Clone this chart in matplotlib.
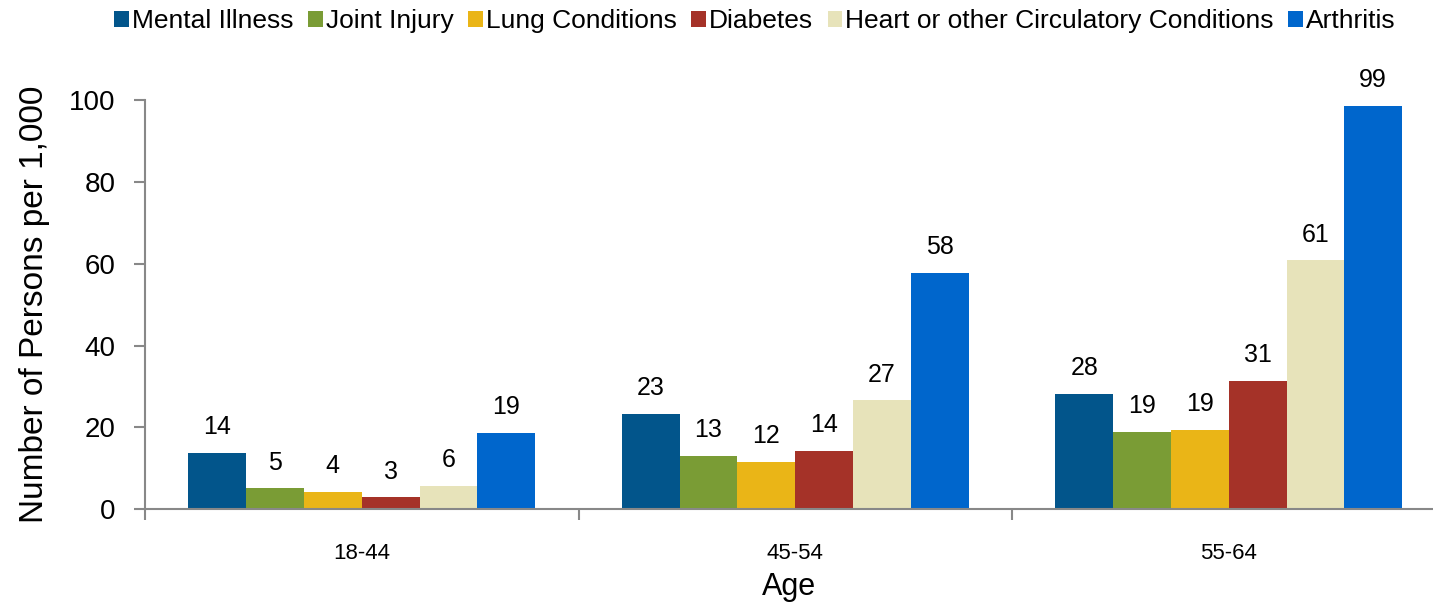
import numpy as np
import matplotlib
matplotlib.use("Agg")
import matplotlib.pyplot as plt

plt.rcParams['font.family'] = ['Liberation Sans', 'DejaVu Sans']

ages = ["18-44", "45-54", "55-64"]
conditions = ["Mental Illness", "Joint Injury", "Lung Conditions", "Diabetes",
              "Heart or other Circulatory Conditions", "Arthritis"]
mental = [13.8, 23.4, 28.1]
joint = [5.1, 13.0, 19.0]
lung = [4.2, 11.6, 19.4]
diabetes = [2.9, 14.3, 31.3]
heart = [5.7, 26.6, 60.8]
arthritis = [18.6, 57.8, 98.6]
colors = ["#02558B", "#7A9C35", "#EAB517", "#A53228", "#E7E3BA", "#0066CC"]

series = [mental, joint, lung, diabetes, heart, arthritis]

fig = plt.figure(figsize=(14.33, 6.05), dpi=100)
ax = fig.add_axes([145 / 1433, 1 - 509.3 / 605, 1 - 145 / 1433, 409.3 / 605])

x = np.arange(len(ages))
w = 0.8 / len(series)
for i, vals in enumerate(series):
    bars = ax.bar(x - 0.4 + w * (i + 0.5), vals, w, color=colors[i], label=conditions[i], linewidth=0)
    ax.bar_label(bars, fmt="%.0f", padding=10, fontsize=18)

ax.set_xlim(-0.5, -0.5 + (1433 - 145) / 433.5)
ax.set_ylim(0, 100)
ax.set_yticks(np.arange(0, 101, 20))
ax.tick_params(axis='y', labelsize=20, length=8, width=1.5, color="#888888", pad=13)

ax.set_xticks([-0.5, 0.5, 1.5])
ax.set_xticklabels([])
ax.tick_params(axis='x', which='major', length=8, width=1.5, color="#888888")
ax.set_xticks(x, minor=True)
ax.set_xticklabels(ages, minor=True, fontsize=16)
ax.tick_params(axis='x', which='minor', length=0, pad=24)

for s in ["top", "right"]:
    ax.spines[s].set_visible(False)
for s in ["left", "bottom"]:
    ax.spines[s].set_color("#888888")
    ax.spines[s].set_linewidth(1.5)

ax.set_ylabel("Number of Persons per 1,000", fontsize=24, labelpad=14)
ax.set_xlabel("Age", fontsize=22, labelpad=6)

fig.legend(loc='center', bbox_to_anchor=(755 / 1433, 1 - 21 / 605), ncol=6, frameon=False,
           fontsize=19, handlelength=0.55, handleheight=0.55, handletextpad=0.12,
           columnspacing=0.55, borderaxespad=0)

fig.savefig("out.png", dpi=100)
